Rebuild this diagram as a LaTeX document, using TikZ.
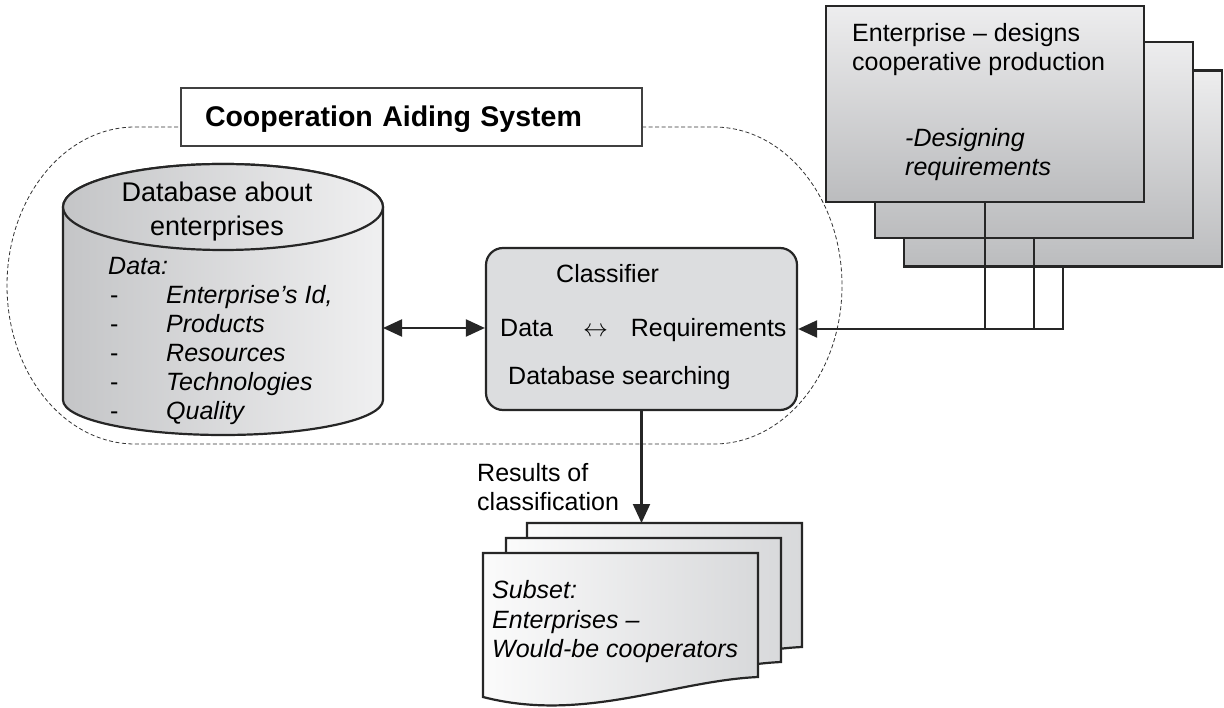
\documentclass[tikz,border=0pt]{standalone}
\usepackage{fontspec}
\setmainfont{Liberation Sans}
\usetikzlibrary{arrows.meta}

\definecolor{clsgray}{HTML}{DCDDDF}
\definecolor{entlight}{HTML}{EDEDEE}
\definecolor{entdark}{HTML}{BBBCBE}
\definecolor{doclight}{HTML}{FBFBFB}
\definecolor{docdark}{HTML}{D8D9DB}
\definecolor{dblight}{HTML}{F0F0F1}
\definecolor{dbmid}{HTML}{E2E3E4}
\definecolor{dbdark}{HTML}{C4C5C7}

\tikzset{
  txt/.style={font=\fontsize{25}{29}\selectfont, inner sep=0pt},
  itxt/.style={font=\fontsize{25}{29}\selectfont\itshape, inner sep=0pt},
  titlebox/.style={draw=black!75, line width=1.3pt, fill=white,
    font=\fontsize{28.5}{34}\selectfont\bfseries, text height=20pt, text depth=0pt,
    minimum height=58pt, text width=413pt, inner xsep=24pt, align=left},
  entbox/.style={draw=black!85, line width=2.2pt, top color=entlight, bottom color=entdark,
    minimum width=318pt, minimum height=196pt, inner sep=0pt},
  clsbox/.style={draw=black!85, line width=2.2pt, fill=clsgray, rounded corners=17pt,
    minimum width=311pt, minimum height=162pt, inner sep=0pt},
  dbshade/.style={draw=black!85, line width=2.2pt, left color=dbdark, middle color=dbmid, right color=dblight},
  docpage/.style={draw=black!85, line width=2.2pt, left color=doclight, right color=docdark},
  conn/.style={line width=2.1pt, black!85},
  tip/.style={arrows={-Triangle[length=19pt,width=17pt]}},
  tips/.style={arrows={Triangle[length=19pt,width=17pt]-Triangle[length=19pt,width=17pt]}},
  boundary/.style={black!80, line width=0.8pt, dash pattern=on 4pt off 2.5pt}
}

% one page of the result stack, #1,#2 = top left corner
\newcommand{\resultpage}[2]{%
  \begin{scope}[shift={(#1,#2)}]
    \shadedraw[docpage] (0,0) -- (0,144) .. controls (100,170) and (190,128) .. (275,124) -- (275,0) -- cycle;
  \end{scope}}

\begin{document}
\begin{tikzpicture}[x=1pt,y=-1pt]
\useasboundingbox (0,0) rectangle (1224,708);

% system boundary
\draw[boundary] (135,127) -- (714,127) arc[start angle=-90, end angle=90, x radius=128, y radius=158.5]
  -- (135,444) arc[start angle=90, end angle=270, x radius=128, y radius=158.5] -- cycle;
\node[titlebox] (cas) at (411.5,117) {Cooperation Aiding System};

% database
\shadedraw[dbshade] (63,207) -- (63,400) arc[start angle=180, end angle=0, x radius=160, y radius=35]
  -- (383,207) arc[start angle=0, end angle=-180, x radius=160, y radius=43] -- cycle;
\shadedraw[dbshade] (223,207) ellipse[x radius=160, y radius=43];
\coordinate (db) at (383,328);
\node[txt, font=\fontsize{27}{33}\selectfont, anchor=base] (dbname1) at (217,202) {Database about};
\node[txt, font=\fontsize{27}{33}\selectfont, anchor=base] (dbname2) at (217,236) {enterprises};
\node[itxt, anchor=base west] (dbdata) at (108,275) {Data:};
\foreach \entry [count=\i] in {{Enterprise’s Id,}, Products, Resources, Technologies, Quality} {
  \node[txt, anchor=base west] (dbdash\i) at (110,275+29*\i) {-};
  \node[itxt, anchor=base west] (dbitem\i) at (166,275+29*\i) {\entry};
}

% classifier
\node[clsbox] (cls) at (641.5,329) {};
\node[txt, anchor=base west] (clsname) at (556,283) {Classifier};
\node[txt, anchor=base west] (clsmatch) at (500,337) {Data\hspace{30pt}$\leftrightarrow$\hspace{23pt}Requirements};
\node[txt, anchor=base west] (clssearch) at (508,385) {Database searching};

% enterprises
\node[entbox] (ent3) at (1063,168.5) {};
\node[entbox] (ent2) at (1034,140) {};
\node[entbox] (ent1) at (985,104) {};
\node[txt, anchor=base west] (entname1) at (852,42) {Enterprise – designs};
\node[txt, anchor=base west] (entname2) at (852,71) {cooperative production};
\node[itxt, anchor=base west] (entreq1) at (905,147) {-Designing};
\node[itxt, anchor=base west] (entreq2) at (905,176) {requirements};

% connections
\draw[conn, tips] (db) -- (db -| cls.west);
\draw[conn, tip] (ent1.south) |- (cls.east);
\draw[conn] (ent2.south) -- (ent2.south |- cls.east);
\draw[conn] (ent3.south) -- (ent3.south |- cls.east) -- (ent1.south |- cls.east);

% results
\resultpage{527}{523}
\resultpage{506}{538}
\resultpage{483}{553}
\coordinate (res) at (641.5,523);
\draw[conn, tip] (cls.south) -- (res);
\node[txt, anchor=base west] (reslabel1) at (477,482) {Results of};
\node[txt, anchor=base west] (reslabel2) at (477,510) {classification};
\node[itxt, anchor=base west] (subset1) at (492,598) {Subset:};
\node[itxt, anchor=base west] (subset2) at (492,628) {Enterprises –};
\node[itxt, anchor=base west] (subset3) at (492,657) {Would-be cooperators};
\end{tikzpicture}
\end{document}
